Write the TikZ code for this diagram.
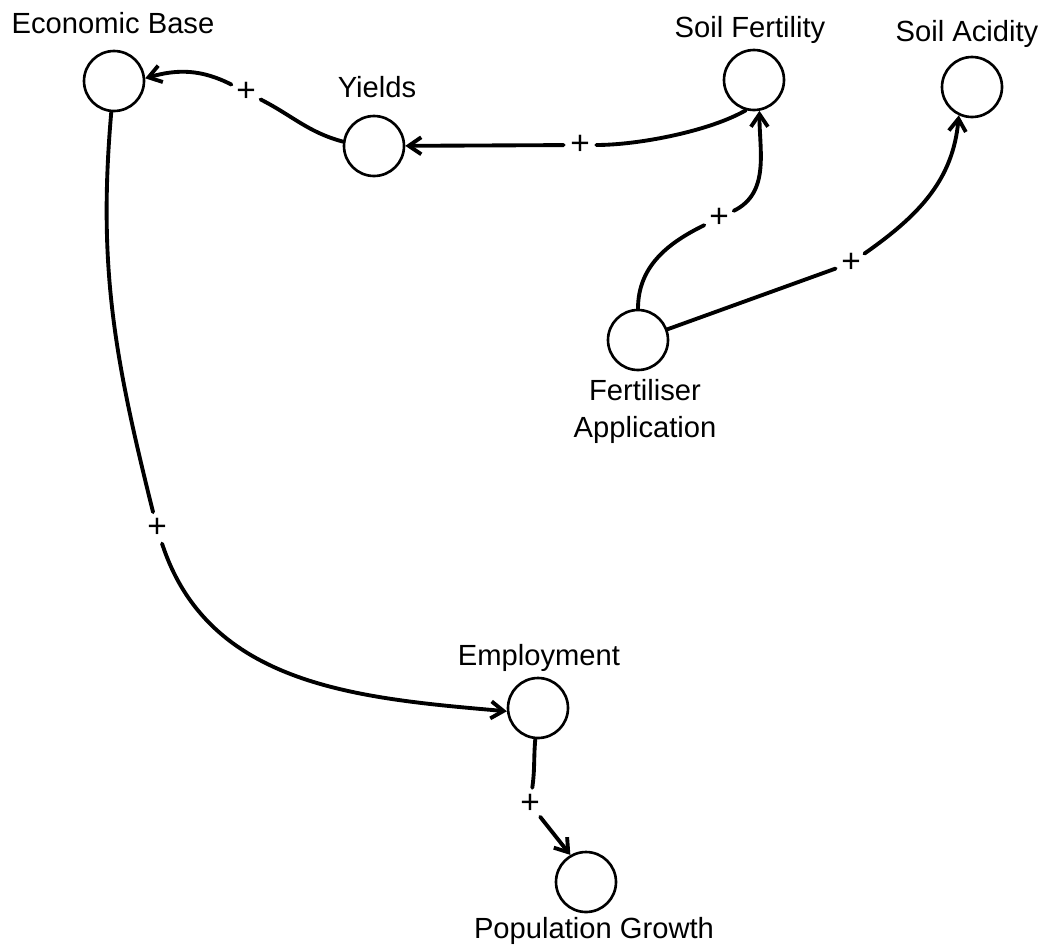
\documentclass[tikz,border=0pt]{standalone}
\usepackage{fontspec}
\setmainfont{Liberation Sans}
\usepackage{tikz}
\usetikzlibrary{arrows.meta,positioning}

\begin{document}
\begin{tikzpicture}[x=0.02cm,y=-0.02cm,
    var/.style={circle,draw,line width=1.5pt,minimum size=1.2cm,inner sep=0pt},
    lbl/.style={inner sep=0pt,font=\fontsize{16.6}{21}\selectfont},
    plus/.style={circle,inner sep=0pt,minimum size=0.64cm,font=\fontsize{19}{21}\selectfont},
    link/.style={line width=2.2pt,line cap=round},
    tip/.style={-{Straight Barb[length=0.25cm,width=0.34cm]}}]
      \useasboundingbox (0,0) rectangle (1041,947);
      \begin{scope}
        \foreach \n/\x/\y in {eb/114/81, yl/374/146, sf/754/80, sa/972/87, fa/638/340, em/538/708, pg/586/882}
          \node[var] (\n) at (\x,\y) {};

        \node[lbl,anchor=base] (ebl) at (113,33) {Economic Base};
        \node[lbl,anchor=base] (yll) at (377,97) {Yields};
        \node[lbl,anchor=base] (sfl) at (750,37) {Soil Fertility};
        \node[lbl,anchor=base] (sal) at (967,41) {Soil Acidity};
        \node[lbl,anchor=north,align=center] (fal) at (645,379) {Fertiliser\\Application};
        \node[lbl,anchor=base] (eml) at (539,665) {Employment};
        \node[lbl,anchor=base] (pgl) at (594,938) {Population Growth};

        \foreach \n/\x/\y in {p1/246/92, p2/580/145, p3/719/218, p4/851/263, p5/157/528, p6/530/804}
          \node[plus] (\n) at (\x,\y) {+};

        \draw[link] (yl.172) to[out=165,in=-27] (p1);
        \draw[link,tip] (p1) to[out=153,in=16] (eb.5);
        \draw[link] (sf.255) to[out=210,in=0,looseness=0.7] (p2);
        \draw[link,tip] (p2) -- (yl);
        \draw[link] (fa) to[out=90,in=206] (p3);
        \draw[link,tip] (p3) to[out=26,in=270] (sf.280);
        \draw[link] (fa.20) -- (p4);
        \draw[link,tip] (p4) to[out=35,in=265] (sa.245);
        \draw[link] (eb.265) to[out=265,in=104] (p5);
        \draw[link,tip] (p5) to[out=288,in=175] (em.186);
        \draw[link] (em.265) to[out=265,in=82] (p6);
        \draw[link,tip] (p6) -- (pg.120);
      \end{scope}
\end{tikzpicture}
\end{document}
